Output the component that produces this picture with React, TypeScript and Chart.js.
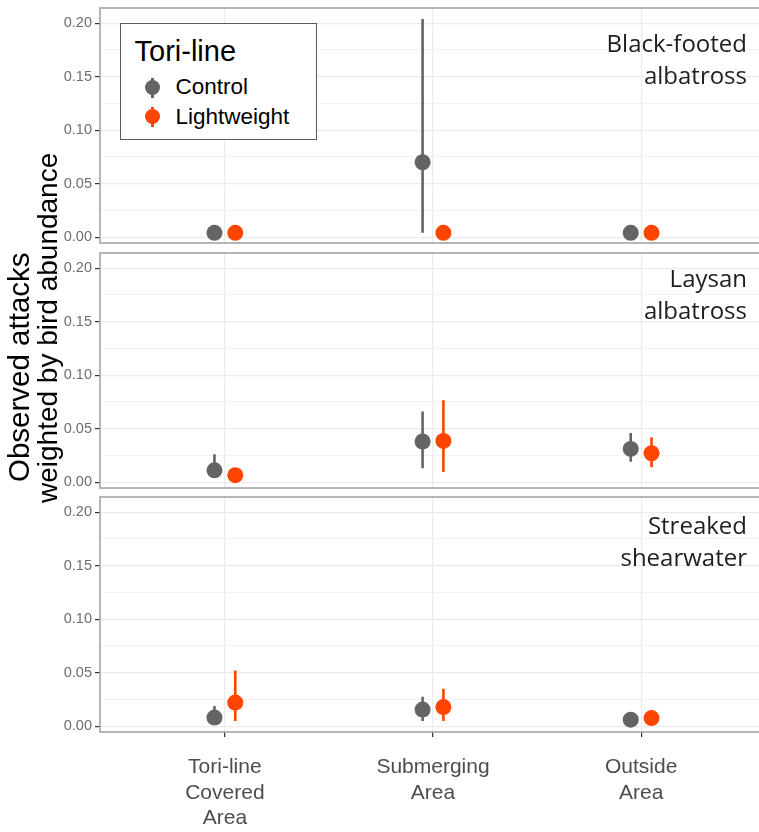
import React, { useEffect, useRef } from "react";
import { Chart, registerables } from "chart.js";

Chart.register(...registerables);

// ---------- data ----------
const categoryLabels: string[][] = [
  ["Tori-line", "Covered", "Area"],
  ["Submerging", "Area"],
  ["Outside", "Area"],
];
const categoryPositions = [1, 2, 3];
const yTickValues = [0, 0.025, 0.05, 0.075, 0.1, 0.125, 0.15, 0.175, 0.2];
const seriesNames = ["Control", "Lightweight"];
const panelNames: string[][] = [
  ["Black-footed", "albatross"],
  ["Laysan", "albatross"],
  ["Streaked", "shearwater"],
];
const yTitleLines = ["Observed attacks", "weighted by bird abundance"];
const legendTitle = "Tori-line";

// Black-footed albatross
const bfControlMean = [0.004, 0.07, 0.004];
const bfControlLow = [0.003, 0.004, 0.003];
const bfControlHigh = [0.005, 0.204, 0.005];
const bfLightMean = [0.004, 0.004, 0.004];
const bfLightLow = [0.003, 0.003, 0.003];
const bfLightHigh = [0.005, 0.005, 0.005];

// Laysan albatross
const laControlMean = [0.011, 0.038, 0.031];
const laControlLow = [0.004, 0.013, 0.019];
const laControlHigh = [0.026, 0.066, 0.046];
const laLightMean = [0.0065, 0.0385, 0.027];
const laLightLow = [0.003, 0.0095, 0.014];
const laLightHigh = [0.01, 0.0765, 0.042];

// Streaked shearwater
const ssControlMean = [0.008, 0.0155, 0.006];
const ssControlLow = [0.002, 0.0047, 0.004];
const ssControlHigh = [0.0187, 0.0275, 0.008];
const ssLightMean = [0.022, 0.0178, 0.0075];
const ssLightLow = [0.0047, 0.0047, 0.005];
const ssLightHigh = [0.052, 0.035, 0.01];

// ---------- styles ----------
const CONTROL_COLOR = "#646464";
const LIGHT_COLOR = "#FF4500";
const SANS = "'Liberation Sans', Arial, Helvetica, sans-serif";
const STRIP_FONT = "'Open Sans', 'Noto Sans', sans-serif";
const DODGE = 0.05;
const CANVAS_W = 768;

type PanelData = {
  cMean: number[]; cLow: number[]; cHigh: number[];
  lMean: number[]; lLow: number[]; lHigh: number[];
};

const panels: PanelData[] = [
  { cMean: bfControlMean, cLow: bfControlLow, cHigh: bfControlHigh, lMean: bfLightMean, lLow: bfLightLow, lHigh: bfLightHigh },
  { cMean: laControlMean, cLow: laControlLow, cHigh: laControlHigh, lMean: laLightMean, lLow: laLightLow, lHigh: laLightHigh },
  { cMean: ssControlMean, cLow: ssControlLow, cHigh: ssControlHigh, lMean: ssLightMean, lLow: ssLightLow, lHigh: ssLightHigh },
];

const isMajor = (v: number) => Math.abs(v / 0.05 - Math.round(v / 0.05)) < 1e-6;

const borderPlugin = {
  id: "panelBorder",
  afterDraw(chart: any) {
    const { ctx, chartArea } = chart;
    ctx.save();
    ctx.strokeStyle = "#a4a4a4";
    ctx.lineWidth = 1.6;
    ctx.strokeRect(chartArea.left, chartArea.top, chartArea.right - chartArea.left, chartArea.bottom - chartArea.top);
    ctx.restore();
  },
};

function makeConfig(p: PanelData, isBottom: boolean): any {
  const pts = (means: number[], off: number) =>
    means.map((m, i) => ({ x: categoryPositions[i] + off, y: m }));
  const bars = (lo: number[], hi: number[], off: number) =>
    lo.flatMap((l, i) => [
      { x: categoryPositions[i] + off, y: l },
      { x: categoryPositions[i] + off, y: hi[i] },
      { x: categoryPositions[i] + off, y: null },
    ]);
  return {
    type: "scatter",
    data: {
      datasets: [
        { type: "scatter", label: seriesNames[0], data: pts(p.cMean, -DODGE), pointRadius: 8, backgroundColor: CONTROL_COLOR, borderWidth: 0, order: 0 },
        { type: "scatter", label: seriesNames[1], data: pts(p.lMean, DODGE), pointRadius: 8, backgroundColor: LIGHT_COLOR, borderWidth: 0, order: 0 },
        { type: "line", label: seriesNames[0] + " range", data: bars(p.cLow, p.cHigh, -DODGE), borderColor: CONTROL_COLOR, borderWidth: 2.6, pointRadius: 0, spanGaps: false, fill: false, order: 1 },
        { type: "line", label: seriesNames[1] + " range", data: bars(p.lLow, p.lHigh, DODGE), borderColor: LIGHT_COLOR, borderWidth: 2.6, pointRadius: 0, spanGaps: false, fill: false, order: 1 },
      ],
    },
    options: {
      animation: false,
      responsive: false,
      maintainAspectRatio: false,
      layout: { autoPadding: false, padding: { top: 8, bottom: isBottom ? 0 : 4, left: 0, right: 2 } },
      plugins: { legend: { display: false }, tooltip: { enabled: false }, title: { display: false } },
      scales: {
        x: {
          type: "linear",
          min: 0.4,
          max: 3.6,
          afterBuildTicks: (s: any) => { s.ticks = categoryPositions.map((v) => ({ value: v })); },
          afterFit: (s: any) => {
            s.height = isBottom ? 100 : 0;
            s.paddingLeft = 0;
            s.paddingRight = 0;
          },
          border: { display: false },
          grid: { color: "#ebebeb", lineWidth: 1.2, drawTicks: isBottom, tickLength: 5, tickColor: "#333333" },
          ticks: {
            display: isBottom,
            padding: 18,
            color: "#4d4d4d",
            font: { family: SANS, size: 21, lineHeight: 1.2 },
            maxRotation: 0,
            autoSkip: false,
            callback: (v: number) => categoryLabels[categoryPositions.indexOf(v)] ?? "",
          },
        },
        y: {
          type: "linear",
          min: -0.0055,
          max: 0.2142,
          afterBuildTicks: (s: any) => { s.ticks = yTickValues.map((v) => ({ value: v })); },
          afterFit: (s: any) => {
            s.width = 100;
            s.paddingTop = 0;
            s.paddingBottom = 0;
          },
          border: { display: false },
          grid: {
            color: (c: any) => (c.tick && isMajor(c.tick.value) ? "#ebebeb" : "#f3f3f3"),
            lineWidth: (c: any) => (c.tick && isMajor(c.tick.value) ? 1.2 : 1),
            drawTicks: true,
            tickLength: 5,
            tickColor: (c: any) => (c.tick && isMajor(c.tick.value) ? "#333333" : "rgba(0,0,0,0)"),
          },
          ticks: {
            padding: 3,
            color: "#6e6e6e",
            font: { family: SANS, size: 14.5 },
            autoSkip: false,
            callback: (v: number) => (isMajor(v) ? v.toFixed(2) : ""),
          },
        },
      },
    },
    plugins: [borderPlugin],
  };
}

function PanelChart({ index, top, height }: { index: number; top: number; height: number }) {
  const ref = useRef<HTMLCanvasElement | null>(null);
  useEffect(() => {
    if (!ref.current) return;
    const chart = new Chart(ref.current, makeConfig(panels[index], index === panels.length - 1));
    return () => chart.destroy();
  }, [index]);
  return (
    <canvas
      ref={ref}
      width={CANVAS_W}
      height={height}
      style={{ position: "absolute", left: 0, top, width: CANVAS_W, height }}
    />
  );
}

const stripTops = [27, 262, 509];

function LegendGlyph({ color, top }: { color: string; top: number }) {
  return (
    <div style={{ position: "absolute", left: 24, top, width: 15, height: 20 }}>
      <div style={{ position: "absolute", left: 6.25, top: 0, width: 2.5, height: 20, background: color }} />
      <div style={{ position: "absolute", left: 0, top: 2.5, width: 15, height: 15, borderRadius: "50%", background: color }} />
    </div>
  );
}

export default function App() {
  return (
    <div style={{ position: "absolute", left: 0, top: 0, width: 759, height: 832, overflow: "hidden", background: "#ffffff" }}>
      <PanelChart index={0} top={0} height={247} />
      <PanelChart index={1} top={245} height={247} />
      <PanelChart index={2} top={489} height={343} />

      {panelNames.map((lines, i) => (
        <div
          key={i}
          style={{
            position: "absolute",
            right: 12,
            top: stripTops[i],
            textAlign: "right",
            fontFamily: STRIP_FONT,
            fontSize: 24,
            lineHeight: "32px",
            color: "#1e1e1e",
            whiteSpace: "nowrap",
          }}
        >
          {lines.map((t, j) => (
            <div key={j}>{t}</div>
          ))}
        </div>
      ))}

      {/* y axis title */}
      <div style={{ position: "absolute", left: 3, top: 482, transform: "rotate(-90deg)", transformOrigin: "0 0", fontFamily: SANS, fontSize: 29.5, lineHeight: "32px", whiteSpace: "nowrap", color: "#000" }}>
        {yTitleLines[0]}
      </div>
      <div style={{ position: "absolute", left: 32, top: 503, transform: "rotate(-90deg)", transformOrigin: "0 0", fontFamily: SANS, fontSize: 28, lineHeight: "32px", whiteSpace: "nowrap", color: "#000" }}>
        {yTitleLines[1]}
      </div>

      {/* legend */}
      <div style={{ position: "absolute", left: 120, top: 23, width: 197, height: 117, boxSizing: "border-box", border: "1.5px solid #595959", background: "#ffffff" }}>
        <div style={{ position: "absolute", left: 13.5, top: 13, fontFamily: SANS, fontSize: 29, lineHeight: "29px", color: "#000", whiteSpace: "nowrap" }}>{legendTitle}</div>
        <LegendGlyph color={CONTROL_COLOR} top={53.5} />
        <div style={{ position: "absolute", left: 54.5, top: 52, fontFamily: SANS, fontSize: 22.5, lineHeight: "22px", color: "#000", whiteSpace: "nowrap" }}>{seriesNames[0]}</div>
        <LegendGlyph color={LIGHT_COLOR} top={82.5} />
        <div style={{ position: "absolute", left: 54.5, top: 81.5, fontFamily: SANS, fontSize: 22.5, lineHeight: "22px", color: "#000", whiteSpace: "nowrap" }}>{seriesNames[1]}</div>
      </div>
    </div>
  );
}
